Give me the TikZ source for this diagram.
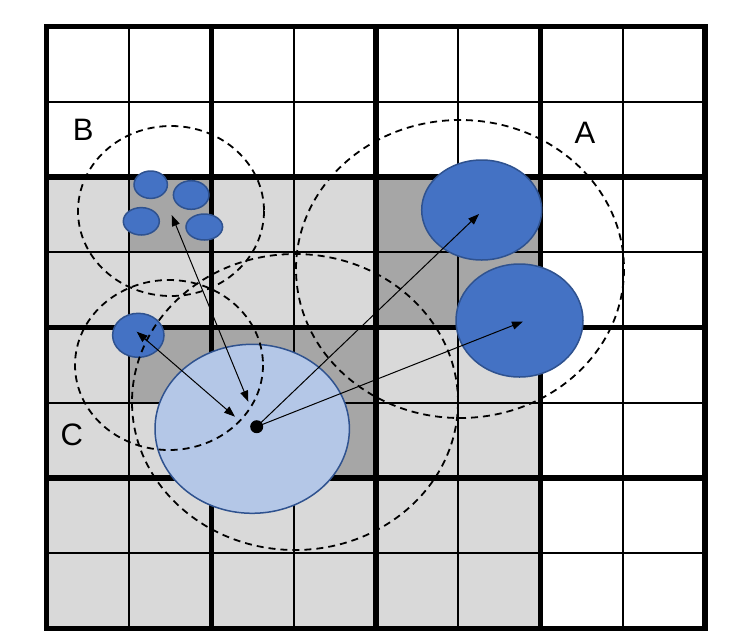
\documentclass[tikz,border=0pt]{standalone}
\usepackage{fontspec}
\setmainfont{Liberation Sans}
\usetikzlibrary{arrows.meta}
\definecolor{lgray}{HTML}{D9D9D9}
\definecolor{dgray}{HTML}{A6A6A6}
\definecolor{bluefill}{HTML}{4472C4}
\definecolor{blueline}{HTML}{2F528F}
\definecolor{lightblue}{HTML}{B4C7E7}
\begin{document}
\begin{tikzpicture}[x=1pt,y=-1pt,
  thingrid/.style={line width=1.8pt,black},
  thickgrid/.style={line width=5.5pt,black},
  blueobj/.style={fill=bluefill,draw=blueline,line width=1.5pt},
  queryobj/.style={fill=lightblue,draw=blueline,line width=1.5pt},
  rangecirc/.style={draw=black,line width=1.8pt,dash pattern=on 7pt off 5pt},
  arr/.style={line width=1pt,-{Triangle[length=11pt,width=8pt]}},
  darr/.style={line width=1pt,{Triangle[length=11pt,width=8pt]}-{Triangle[length=11pt,width=8pt]}},
  lbl/.style={font=\fontsize{31}{36}\selectfont,inner sep=0pt}]
\useasboundingbox (0,0) rectangle (738,635);
\fill[white] (0,0) rectangle (738,635);
% cells
\begin{scope}[shift={(46.7,26.7)},x=82.3pt,y=-75.2pt]
  \fill[lgray] (0,2) rectangle (6,8);
  \fill[dgray] (1,2) rectangle (2,3);
  \fill[dgray] (4,2) rectangle (6,4);
  \fill[dgray] (1,4) rectangle (4,5);
  \fill[dgray] (2,5) rectangle (4,6);
  \foreach \i in {1,3,5,7} {
    \draw[thingrid] (\i,0) -- (\i,8);
    \draw[thingrid] (0,\i) -- (8,\i);
  }
  \foreach \i in {2,4,6} {
    \draw[thickgrid] (\i,0) -- (\i,8);
    \draw[thickgrid] (0,\i) -- (8,\i);
  }
  \draw[thickgrid,line join=miter] (0,0) rectangle (8,8);
\end{scope}
% objects
\filldraw[blueobj] (481.7,210) ellipse [x radius=60,y radius=50];
\filldraw[blueobj] (519.5,320.5) ellipse [x radius=63.5,y radius=56.5];
\filldraw[blueobj] (150.7,184.7) ellipse [x radius=16.7,y radius=13.7];
\filldraw[blueobj] (191.2,195) ellipse [x radius=17.8,y radius=14.3];
\filldraw[blueobj] (141.3,221.3) ellipse [x radius=18,y radius=13.7];
\filldraw[blueobj] (204.3,227) ellipse [x radius=18.3,y radius=13];
\filldraw[blueobj] (138.3,335.3) ellipse [x radius=25.7,y radius=22];
\filldraw[queryobj] (252.2,428.8) ellipse [x radius=97.2,y radius=84.5];
% range circles
\draw[rangecirc] (171,211) ellipse [x radius=93,y radius=85];
\draw[rangecirc] (169,365) ellipse [x radius=94,y radius=85];
\draw[rangecirc] (460,269) ellipse [x radius=164,y radius=149];
\draw[rangecirc] (295,402) ellipse [x radius=163,y radius=148];
% named points
\node[circle,fill=black,inner sep=0pt,minimum size=13pt] (o) at (256.7,426.7) {};
\coordinate (a1) at (479,214);
\coordinate (a2) at (523,321.5);
\coordinate (bc) at (171.7,215);
\coordinate (bq) at (248.3,401.7);
\coordinate (cc) at (136.7,331.7);
\coordinate (cq) at (235,416.7);
% arrows
\draw[arr] (o.center) -- (a1);
\draw[arr] (o.center) -- (a2);
\draw[darr] (bq) -- (bc);
\draw[darr] (cq) -- (cc);
% labels
\node[lbl] (lb) at (83.3,130) {B};
\node[lbl] (la) at (585,133.3) {A};
\node[lbl] (lc) at (71.7,435) {C};
\end{tikzpicture}
\end{document}
